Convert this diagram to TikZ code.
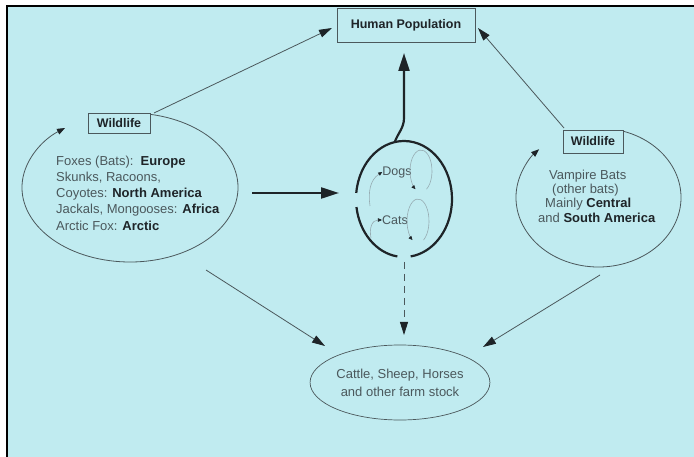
\documentclass[tikz,border=0pt]{standalone}
\usepackage{fontspec}
\setmainfont{Liberation Sans}
\usetikzlibrary{arrows.meta,shapes.geometric}
\definecolor{bgc}{RGB}{192,235,240}
\definecolor{ink}{RGB}{75,88,92}
\definecolor{dark}{RGB}{30,36,40}
\definecolor{faintc}{RGB}{150,172,178}
\begin{document}
\begin{tikzpicture}[x=1pt,y=-1pt,
  thinline/.style={draw=ink,line width=0.8pt},
  thickline/.style={draw=dark,line width=2.2pt},
  bigtip/.style={-{Triangle[length=13pt,width=8pt,color=dark]}},
  hugetip/.style={-{Triangle[length=18pt,width=11pt,color=dark]}},
  smalltip/.style={-{Triangle[length=8pt,width=6pt,color=dark]}},
  minitip/.style={-{Triangle[length=4pt,width=3.5pt,color=dark]}},
  boxn/.style={draw=ink,line width=0.7pt,inner sep=0pt,text=dark,
    font=\bfseries\fontsize{12.5}{14}\selectfont},
  txt/.style={text=ink,inner sep=0pt,font=\fontsize{13}{15}\selectfont},
  faint/.style={draw=faintc,line width=0.6pt}]
\useasboundingbox (0,0) rectangle (694,457);
\fill[white] (0,0) rectangle (694,457);
\fill[bgc] (7,7) rectangle (694,457);
\draw[black,line width=2.5pt] (7,457) -- (7,6) -- (694,6);

% boxes
\node[boxn,minimum width=138pt,minimum height=34pt] (hp) at (406,25) {Human Population};
\node[boxn,minimum width=62pt,minimum height=20pt] (wl) at (119,123) {Wildlife};
\node[boxn,minimum width=60pt,minimum height=23pt] (wr) at (593,141.5) {Wildlife};

% left wildlife ellipse (open, with arrow)
\coordinate (lc) at (130,187.5);
\draw[thinline,smalltip] (lc) ++(-79:108 and 74.5)
  arc[start angle=-79,end angle=233,x radius=108,y radius=74.5];
\node[txt,anchor=west] (l1) at (56,162) {Foxes (Bats):\ \ \textbf{\color{dark}Europe}};
\node[txt,anchor=west] (l2) at (56,178) {Skunks, Racoons,};
\node[txt,anchor=west] (l3) at (56,194) {Coyotes: \textbf{\color{dark}North America}};
\node[txt,anchor=west] (l4) at (56,210) {Jackals, Mongooses: \textbf{\color{dark}Africa}};
\node[txt,anchor=west] (l5) at (56,226) {Arctic Fox: \textbf{\color{dark}Arctic}};

% right wildlife ellipse
\coordinate (rc) at (598.5,197.5);
\draw[thinline,smalltip] (rc) ++(-72:82.5 and 69.5)
  arc[start angle=-72,end angle=224,x radius=82.5,y radius=69.5];
\node[txt,anchor=west] (r1) at (549,176) {Vampire Bats};
\node[txt,anchor=west] (r2) at (552,190) {(other bats)};
\node[txt,anchor=west] (r3) at (545,204) {Mainly \textbf{\color{dark}Central}};
\node[txt,anchor=west] (r4) at (538,218) {and \textbf{\color{dark}South America}};

% centre: dogs and cats
\coordinate (cc) at (404,199);
\draw[thickline] (cc) ++(186:48 and 58) arc[start angle=186,end angle=442,x radius=48,y radius=58];
\draw[thickline] (cc) ++(98:48 and 58) arc[start angle=98,end angle=172,x radius=48,y radius=58];
\node[txt,font=\fontsize{12.5}{14}\selectfont] (dogs) at (397,172) {Dogs};
\node[txt,font=\fontsize{12.5}{14}\selectfont] (cats) at (395,220) {Cats};
\coordinate (dl) at (421,171);
\coordinate (cl) at (418,221);
\draw[faint,minitip] (dl) ++(60:11 and 21) arc[start angle=60,end angle=-240,x radius=11,y radius=21];
\draw[faint,minitip] (cl) ++(60:11 and 22) arc[start angle=60,end angle=-240,x radius=11,y radius=22];
\coordinate (dlt) at (370,206);
\coordinate (clt) at (371,238);
\draw[faint,minitip] (dlt) .. controls (368,192) and (370,180) .. (dogs.west);
\draw[faint,minitip] (clt) .. controls (369,228) and (372,220) .. (cats.west);

% bottom ellipse
\node[draw=ink,line width=0.7pt,ellipse,minimum width=176pt,minimum height=75pt,inner sep=0pt,
  align=center,text=ink,font=\fontsize{13}{18}\selectfont] (farm) at (400,382.5)
  {Cattle, Sheep, Horses\\and other farm stock};

% connectors
\coordinate (ctop) at (395,141.5);
\coordinate (hpin) at (404,53);
\draw[thickline,hugetip] (ctop) .. controls (398,133) and (404,128) .. (404,118) -- (hpin);
\coordinate (harrs) at (252,193);
\coordinate (harre) at (339,193);
\draw[thickline,hugetip] (harrs) -- (harre);
\coordinate (wlout) at (154,113);
\coordinate (hpl) at (332,28);
\draw[thinline,bigtip] (wlout) -- (hpl);
\coordinate (wrout) at (564,128);
\coordinate (hpr) at (478,28);
\draw[thinline,bigtip] (wrout) -- (hpr);
\coordinate (lbot) at (206,270);
\coordinate (fl) at (325,346);
\draw[thinline,bigtip] (lbot) -- (fl);
\coordinate (rbot) at (600,275);
\coordinate (fr) at (483,347);
\draw[thinline,bigtip] (rbot) -- (fr);
\coordinate (cbot) at (404,262);
\coordinate (ft) at (404,335);
\draw[thinline,dash pattern=on 7pt off 5pt,bigtip] (cbot) -- (ft);
\end{tikzpicture}
\end{document}
